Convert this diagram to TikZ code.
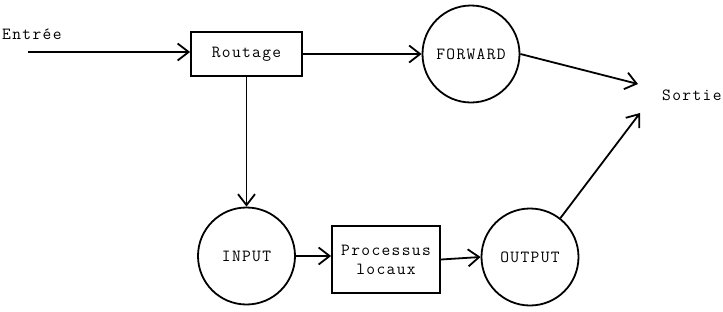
\documentclass[tikz,border=0pt]{standalone}
\usepackage{fontspec}
\setmonofont{Latin Modern Mono}[LetterSpace=8]
\usetikzlibrary{arrows.meta}
\begin{document}
\begin{tikzpicture}[x=1pt,y=-1pt,
  every node/.style={font=\ttfamily\fontsize{17}{19}\selectfont},
  conn/.style={line width=1.8pt,-{Straight Barb[length=11pt,width=17pt,line width=1.8pt]}},
  boxnode/.style={draw,line width=1.8pt,inner sep=0pt},
  circnode/.style={draw,circle,line width=1.8pt,minimum size=97pt,inner sep=0pt},
  lbl/.style={inner sep=0pt,anchor=west}]
\useasboundingbox (0,0) rectangle (723,311);
\node[boxnode,minimum width=111pt,minimum height=44pt] (rout) at (246.5,54) {Routage};
\node[circnode] (fwd) at (471,54) {FORWARD};
\node[circnode] (inp) at (246.5,256) {INPUT};
\node[boxnode,minimum width=108pt,minimum height=67pt,align=center] (proc) at (386,259.5) {Processus\\locaux};
\node[circnode] (out) at (530,257) {OUTPUT};
\node[lbl] (in) at (2,34) {Entrée};
\node[lbl] (so) at (662,95) {Sortie};
\coordinate (s0) at (28,52);
\coordinate (s1) at (638,84);
\coordinate (s2) at (640,113);
\draw[conn] (s0) -- (rout.west|-s0);
\draw[conn] (rout.east) -- (fwd.west);
\draw[conn] (rout.south) -- (inp.north);
\draw[conn] (inp.east) -- (proc.west|-inp.east);
\draw[conn] (proc.east) -- (out.west);
\draw[conn] (fwd.east) -- (s1);
\draw[conn] (out.52) -- (s2);
\end{tikzpicture}
\end{document}
